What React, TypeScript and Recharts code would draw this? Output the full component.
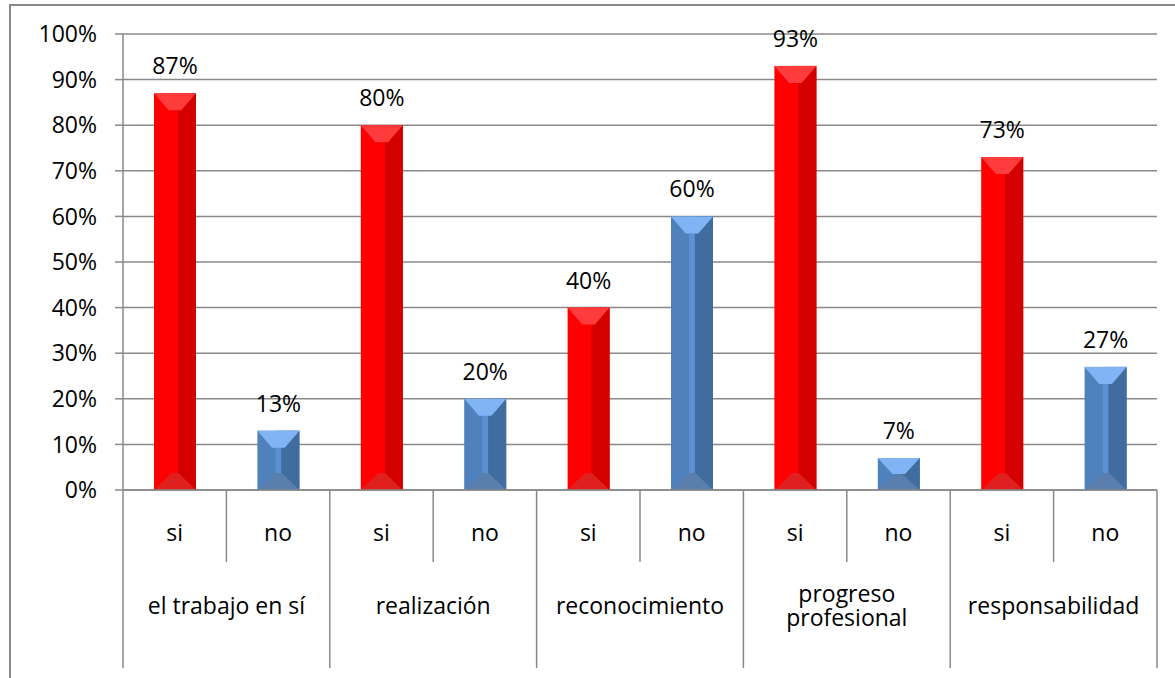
import React from "react";
import { BarChart, Bar, XAxis, YAxis, CartesianGrid, LabelList } from "recharts";

const categories = ["el trabajo en sí", "realización", "reconocimiento", "progreso\nprofesional", "responsabilidad"];
const answers = ["si", "no"];
const siValues = [87, 80, 40, 93, 73];
const noValues = [13, 20, 60, 7, 27];
const yTicks = [0, 10, 20, 30, 40, 50, 60, 70, 80, 90, 100];

const data: { key: string; group: string; answer: string; value: number }[] = [];
categories.forEach((g, i) => {
  data.push({ key: `${i}-si`, group: g, answer: answers[0], value: siValues[i] });
  data.push({ key: `${i}-no`, group: g, answer: answers[1], value: noValues[i] });
});

const W = 1175;
const H = 678;
const LEFT = 123;
const RIGHT = 18;
const TOP = 34;
const XAXIS_H = 188;
const BAND = (W - LEFT - RIGHT) / data.length;
const FONT = "'Open Sans', sans-serif";
const FS = 23;
const GRAY = "#898989";
const LINE_GAP = 24;

const palettes: Record<string, { base: string; strip: string; right: string; top: string; bottom: string }> = {
  si: { base: "#FF0000", strip: "#FF0000", right: "#D40000", top: "#FF3B3B", bottom: "#E01F1F" },
  no: { base: "#4F81BD", strip: "#5B90D2", right: "#406C9F", top: "#80B4F4", bottom: "#5A7EAE" },
};

const BevelBar = (props: any) => {
  const { x, y, width: w, height: h, payload } = props;
  if (!h || h <= 0) return null;
  const p = palettes[payload.answer];
  const by = Math.min(17, h / 2);
  return (
    <g>
      <rect x={x} y={y} width={w} height={h} fill={p.base} />
      <rect x={x + 0.43 * w} y={y} width={0.14 * w} height={h} fill={p.strip} />
      <rect x={x + 0.57 * w} y={y} width={0.43 * w} height={h} fill={p.right} />
      <polygon
        points={`${x},${y} ${x + w},${y} ${x + 0.65 * w},${y + by} ${x + 0.35 * w},${y + by}`}
        fill={p.top}
      />
      <polygon
        points={`${x},${y + h} ${x + w},${y + h} ${x + 0.58 * w},${y + h - by} ${x + 0.42 * w},${y + h - by}`}
        fill={p.bottom}
      />
    </g>
  );
};

const ValueLabel = (props: any) => {
  const { x, y, width, value } = props;
  return (
    <text x={x + width / 2} y={y - 19} textAnchor="middle" fontFamily={FONT} fontSize={FS} fill="#000">
      {`${value}%`}
    </text>
  );
};

const XTick = (props: any) => {
  const { x, y, index } = props;
  const item = data[index];
  const left = x - BAND / 2;
  const isFirstOfGroup = index % 2 === 0;
  const lines = item.group.split("\n");
  const firstBaseline = y + 124 - ((lines.length - 1) / 2) * LINE_GAP;
  return (
    <g>
      <text x={x} y={y + 51} textAnchor="middle" fontFamily={FONT} fontSize={FS} fill="#000">
        {item.answer}
      </text>
      {isFirstOfGroup ? (
        <line x1={left} x2={left} y1={y} y2={y + 178} stroke={GRAY} strokeWidth={1.5} />
      ) : (
        <line x1={left} x2={left} y1={y} y2={y + 72} stroke={GRAY} strokeWidth={1.5} />
      )}
      {index === data.length - 1 && (
        <line x1={x + BAND / 2} x2={x + BAND / 2} y1={y} y2={y + 178} stroke={GRAY} strokeWidth={1.5} />
      )}
      {!isFirstOfGroup && (
        <text x={left} y={firstBaseline} textAnchor="middle" fontFamily={FONT} fontSize={FS} fill="#000">
          {lines.map((ln: string, k: number) => (
            <tspan key={k} x={left} dy={k === 0 ? 0 : LINE_GAP}>
              {ln}
            </tspan>
          ))}
        </text>
      )}
    </g>
  );
};

export default function App() {
  return (
    <div
      style={{
        position: "absolute",
        left: 0,
        top: 0,
        width: W,
        height: H,
        overflow: "hidden",
        background: "#fff",
      }}
    >
      <div
        style={{
          position: "absolute",
          left: 9,
          top: 4,
          width: W + 20,
          height: H + 20,
          borderTop: `2px solid ${GRAY}`,
          borderLeft: `2px solid ${GRAY}`,
        }}
      />
      <div style={{ position: "absolute", left: 0, top: 0 }}>
        <BarChart width={W} height={H} data={data} margin={{ top: TOP, right: RIGHT, left: 0, bottom: 0 }}>
          <CartesianGrid vertical={false} stroke={GRAY} strokeWidth={1.5} />
          <XAxis
            dataKey="key"
            height={XAXIS_H}
            interval={0}
            tickLine={false}
            tickSize={0}
            tickMargin={0}
            axisLine={{ stroke: GRAY, strokeWidth: 1.5 }}
            tick={<XTick />}
          />
          <YAxis
            width={LEFT}
            domain={[0, 100]}
            ticks={yTicks}
            interval={0}
            tickFormatter={(v: number) => `${v}%`}
            tickSize={8}
            tickMargin={18}
            axisLine={{ stroke: GRAY, strokeWidth: 1.5 }}
            tickLine={{ stroke: GRAY, strokeWidth: 1.5 }}
            tick={{ fill: "#000", fontFamily: FONT, fontSize: FS }}
          />
          <Bar dataKey="value" barSize={42} shape={<BevelBar />} isAnimationActive={false}>
            <LabelList dataKey="value" content={<ValueLabel />} />
          </Bar>
        </BarChart>
      </div>
    </div>
  );
}
